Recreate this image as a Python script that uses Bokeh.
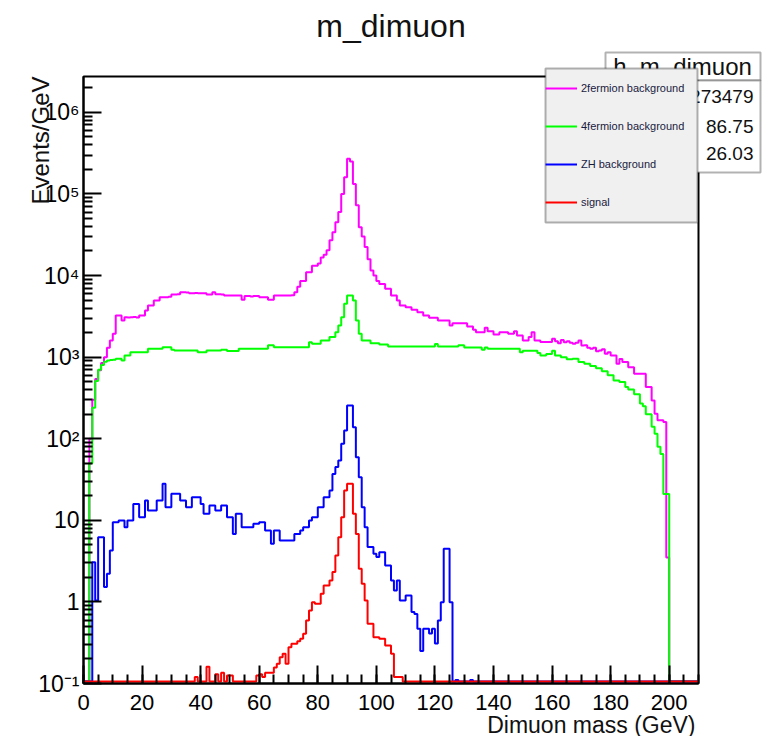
import math
from bokeh.plotting import figure
from bokeh.io import curdoc
from bokeh.models import (FixedTicker, SingleIntervalTicker, Label, BoxAnnotation,
                          Legend, LegendItem, Range1d, Title, CustomJS)
from bokeh.embed import file_html
from bokeh.resources import INLINE

# ---------------- data (1 GeV bins, 0..210 GeV) ----------------
bin_edges = list(range(0, 211))

two_fermion = (
    [0, 0, 100, 300, 540, 690, 850, 1000, 1300, 1600,
     1930, 3240, 3240, 2810, 3090, 3050, 3090, 3100, 3050, 3240,
     3240, 3720, 4290, 4290, 4940, 4940, 5430, 5400, 5430, 5500,
     5860, 5860, 5900, 6250, 6250, 6200, 6080, 6080, 6100, 6080,
     6050, 6080, 5860, 5860, 6250, 5900, 5900, 5850, 5690, 5690,
     5700, 5690, 5690, 5690, 5040, 5600, 5600, 5550, 5600, 5600,
     5430, 5430, 5430, 5040, 5040, 5690, 5690, 5700, 5690, 5690,
     5690, 5750, 6250, 7300, 8560, 8560, 11000, 11000, 13200, 13200,
     14000, 16600, 18000, 20400, 27000, 34000, 45000, 60000, 100000, 160000,
     270000, 250000, 132000, 72600, 39000, 30000, 22300, 15800, 11500, 10000,
     8600, 7900, 7900, 6870, 6870, 5690, 5690, 4940, 4290, 4290,
     4090, 4090, 3800, 3800, 3560, 3560, 3240, 3240, 3030, 3030,
     3030, 2810, 2810, 2810, 2810, 2440, 2610, 2610, 2610, 2610,
     2610, 2380, 2380, 2160, 2020, 2020, 2020, 2290, 2080, 2080,
     1900, 1900, 2020, 2020, 2020, 1930, 1930, 2080, 1840, 1840,
     1600, 1600, 1760, 2020, 1600, 1600, 1530, 1530, 1530, 1530,
     1680, 1570, 1480, 1620, 1520, 1570, 1500, 1456, 1500, 1600,
     1390, 1400, 1300, 1265, 1300, 1180, 1205, 1250, 1100, 1150,
     1050, 1047, 828, 950, 869, 869, 754, 754, 625, 625,
     625, 625, 430, 430, 295, 202, 168, 168, 160, 3.5]
    + [0] * 10
)

four_fermion = (
    [0, 0, 50, 240, 510, 700, 800, 880, 910, 920,
     930, 953, 953, 908, 1050, 1050, 1150, 1150, 1150, 1150,
     1150, 1150, 1265, 1265, 1265, 1265, 1265, 1325, 1325, 1325,
     1230, 1205, 1205, 1205, 1205, 1205, 1205, 1205, 1205, 1150,
     1150, 1150, 1205, 1205, 1205, 1205, 1205, 1230, 1230, 1190,
     1190, 1190, 1190, 1265, 1265, 1265, 1265, 1265, 1265, 1265,
     1265, 1265, 1265, 1400, 1400, 1325, 1325, 1325, 1325, 1325,
     1325, 1325, 1325, 1325, 1325, 1325, 1325, 1527, 1455, 1455,
     1455, 1600, 1600, 1600, 1760, 1760, 2020, 2440, 3090, 4500,
     5690, 5690, 4940, 2810, 1930, 1600, 1600, 1600, 1480, 1480,
     1480, 1426, 1426, 1426, 1350, 1350, 1350, 1350, 1350, 1350,
     1350, 1350, 1350, 1350, 1350, 1350, 1350, 1350, 1350, 1350,
     1450, 1350, 1350, 1350, 1350, 1350, 1350, 1350, 1400, 1400,
     1310, 1310, 1310, 1310, 1310, 1310, 1230, 1310, 1265, 1265,
     1265, 1265, 1265, 1265, 1265, 1265, 1265, 1265, 1265, 1150,
     1200, 1200, 1200, 1200, 1200, 1120, 1047, 1047, 1090, 1090,
     1200, 1047, 1047, 1000, 1000, 940, 940, 953, 953, 870,
     870, 828, 828, 780, 780, 730, 730, 670, 670, 600,
     600, 518, 518, 495, 495, 430, 400, 400, 350, 350,
     270, 250, 200, 200, 140, 115, 80, 65, 21, 21]
    + [0] * 10
)

zh_background = (
    [0, 0, 0, 3.07, 1.04, 6.2, 6.2, 1.52, 2.21, 4.27,
     9.5, 9.5, 9.95, 9.95, 8.25, 9.95, 9.95, 15.9, 15.9, 10.9,
     10.9, 17.5, 13.2, 13.2, 13.2, 17.5, 17.5, 28, 14.5, 14.5,
     21.1, 21.1, 21.1, 17.5, 17.5, 14.5, 14.5, 19.2, 19.2, 19.2,
     15.9, 12, 12, 15.2, 15.2, 13.2, 13.2, 15.2, 15.2, 10.9,
     10.9, 6.8, 12, 12, 8.25, 8.25, 8.25, 8.25, 9.05, 9.05,
     9.5, 9.5, 7.5, 7.5, 5.15, 7.5, 7.5, 5.66, 5.66, 5.66,
     5.66, 5.66, 6.8, 6.8, 7.5, 8.25, 8.25, 9.95, 10.9, 10.9,
     14.5, 14.5, 19.2, 19.2, 23.2, 37, 45, 54, 86.6, 126,
     255, 255, 138, 59.4, 33.8, 14.5, 8.25, 4.7, 4.7, 3.89,
     3.54, 4.06, 4.06, 2.79, 2.79, 1.83, 1.38, 1.83, 1.04, 1.04,
     1.2, 1.2, 0.75, 0.71, 0.47, 0.25, 0.47, 0.47, 0.41, 0.47,
     0.31, 0.59, 0.99, 4.47, 4.47, 0.99, 0, 0.11, 0, 0,
     0, 0, 0.11]
    + [0] * 77
)

signal = (
    [0] * 38
    + [0.12, 0, 0, 0, 0.16, 0, 0, 0.13, 0, 0.135,
       0, 0.125, 0.125, 0, 0, 0, 0, 0, 0, 0,
       0, 0.125, 0.13, 0.12, 0.135, 0.135, 0.135, 0.157, 0.174, 0.21,
       0.231, 0.174, 0.279, 0.306, 0.306, 0.33, 0.353, 0.406, 0.59, 0.785,
       0.99, 0.95, 0.95, 1.26, 1.59, 1.59, 1.83, 2.32, 3.71, 6.2,
       10.9, 23.2, 28, 28, 12, 6.8, 2.55, 1.67, 1.04, 0.54,
       0.54, 0.37, 0.37, 0.353, 0.353, 0.293, 0.293, 0.231, 0.12, 0.12,
       0.12]
    + [0] * 101
)

series_names = ["2fermion background", "4fermion background", "ZH background", "signal"]
series_colors = ["#ff00ff", "#00ff00", "#0000ff", "#ff0000"]
y_tick_values = [0.1, 1, 10, 100, 1000, 10000, 100000, 1000000]
y_tick_labels = ["10\u207b\u00b9", "1", "10", "10\u00b2", "10\u00b3", "10\u2074", "10\u2075", "10\u2076"]
x_label = "Dimuon mass (GeV)"
y_label = "Events/GeV"
stats_title = "h_m_dimuon"
stats_values = ["273479", "86.75", "26.03"]

# ---------------- layout (page pixels) ----------------
X0, X1 = 0.0, 210.0
Y0, Y1 = 0.1, 2.75e6
FRAME_L, FRAME_R, FRAME_T, FRAME_B = 83, 698, 76, 683
W, H = 770, 736
FONT = "Liberation Sans"
DEC = (FRAME_B - FRAME_T) / (math.log10(Y1) - math.log10(Y0))


def px_x(px):
    return X0 + (px - FRAME_L) * (X1 - X0) / (FRAME_R - FRAME_L)


def px_y(py):
    return 10 ** (math.log10(Y0) + (FRAME_B - py) / DEC)


p = figure(width=W, height=H, x_range=Range1d(X0, X1), y_range=Range1d(Y0, Y1),
           y_axis_type="log", output_backend="svg", toolbar_location=None,
           min_border_left=FRAME_L, min_border_top=FRAME_T,
           min_border_right=W - FRAME_R, min_border_bottom=H - FRAME_B,
           background_fill_color="white", border_fill_color="white")
p.xgrid.visible = False
p.ygrid.visible = False
p.outline_line_color = "black"
p.outline_line_width = 2

p.title.text = "m_dimuon"
p.title.align = "center"
p.title.text_font = FONT
p.title.text_font_size = "32px"
p.title.text_font_style = "normal"
p.title.text_color = "#111111"
# spacer between frame and title, lifts the title up
p.add_layout(Title(text=" ", text_font_size="14px"), "above")

for ax in (p.xaxis[0], p.yaxis[0]):
    ax.axis_line_width = 2
    ax.axis_line_color = "black"
    ax.major_tick_in = 18
    ax.major_tick_out = 0
    ax.minor_tick_in = 9
    ax.minor_tick_out = 0
    ax.major_tick_line_width = 2
    ax.minor_tick_line_width = 2
    ax.major_label_text_font = FONT
    ax.major_label_text_color = "black"

p.xaxis.ticker = SingleIntervalTicker(interval=20, num_minor_ticks=4)
p.xaxis.major_label_text_font_size = "22px"
p.xaxis.major_label_standoff = 11

minor = [k * t for t in [0.1, 1, 10, 100, 1000, 10000, 100000, 1000000] for k in range(2, 10)]
p.yaxis.ticker = FixedTicker(ticks=y_tick_values, minor_ticks=minor)
p.yaxis.major_label_overrides = dict(zip(y_tick_values, y_tick_labels))
p.yaxis.major_label_text_font_size = "23px"
p.yaxis.major_label_standoff = 4

# histogram outlines; empty bins sit on the lower edge like ROOT draws them
FLOOR = 0.106
renderers = []
for vals, col in zip([two_fermion, four_fermion, zh_background, signal], series_colors):
    ys = [v if v > 0 else FLOOR for v in vals]
    ys = ys + [ys[-1]]
    r = p.step(x=bin_edges, y=ys, mode="after", line_color=col, line_width=2)
    renderers.append(r)

# white patches for legend samples
patch = p.quad(left=[], right=[], top=[], bottom=[], fill_color="white", line_color=None)

# axis titles, placed like ROOT (right / top aligned)
p.add_layout(Label(x=px_x(695), y=px_y(724), text=x_label, text_align="right",
                   text_baseline="alphabetic", text_font=FONT, text_font_size="23px",
                   text_color="#111111"))
p.add_layout(Label(x=px_x(40), y=px_y(FRAME_T), text=y_label, text_align="right",
                   text_baseline="alphabetic", angle=math.pi / 2, text_font=FONT,
                   text_font_size="24px", text_color="#111111"))

# stats box
p.add_layout(BoxAnnotation(left=px_x(605), right=px_x(760), top=px_y(52), bottom=px_y(80),
                           fill_color="white", fill_alpha=1, line_color="black", line_width=2))
p.add_layout(BoxAnnotation(left=px_x(605), right=px_x(760), top=px_y(80), bottom=px_y(172),
                           fill_color="white", fill_alpha=1, line_color="black", line_width=2))
p.add_layout(Label(x=px_x(682), y=px_y(66), text=stats_title, text_align="center",
                   text_baseline="alphabetic", text_font=FONT, text_font_size="24px",
                   text_color="#111111"))
for txt, base in zip(stats_values, [96, 126, 153]):
    p.add_layout(Label(x=px_x(753), y=px_y(base), text=txt, text_align="right",
                       text_baseline="alphabetic", text_font=FONT, text_font_size="19px",
                       text_color="#111111"))

# legend panel (drawn as a box so it can overlap the frame edge like ROOT's TLegend)
p.add_layout(BoxAnnotation(left=px_x(545), right=px_x(697), top=px_y(68), bottom=px_y(222),
                           fill_color="#f0f0f0", fill_alpha=1, line_color="black", line_width=2))
items = [LegendItem(label=n, renderers=[patch, r]) for n, r in zip(series_names, renderers)]
legend = Legend(items=items, location=(545 - FRAME_L, FRAME_B - 221),
                padding=2, spacing=0, margin=0, glyph_width=32, glyph_height=38,
                label_height=38, label_width=112, label_standoff=4,
                label_text_font=FONT, label_text_font_size="11px", label_text_color="#1a1a40",
                background_fill_alpha=0, border_line_color=None)
p.add_layout(legend)

# the ROOT canvas draws the stats box, legend and axis titles beyond the frame: let them overflow
unclip_js = """
function strip(root) {
  const els = root.querySelectorAll('*');
  for (const el of els) {
    if (el.hasAttribute && el.hasAttribute('clip-path')) el.removeAttribute('clip-path');
    if (el.shadowRoot) strip(el.shadowRoot);
  }
}
strip(document);
let n = 0;
const timer = setInterval(() => { strip(document); n += 1; if (n > 120) clearInterval(timer); }, 50);
"""
doc = curdoc()
doc.add_root(p)
try:
    doc.js_on_event("document_ready", CustomJS(code=unclip_js))
except Exception:
    pass

open("out.html", "w").write(file_html(p, INLINE))
